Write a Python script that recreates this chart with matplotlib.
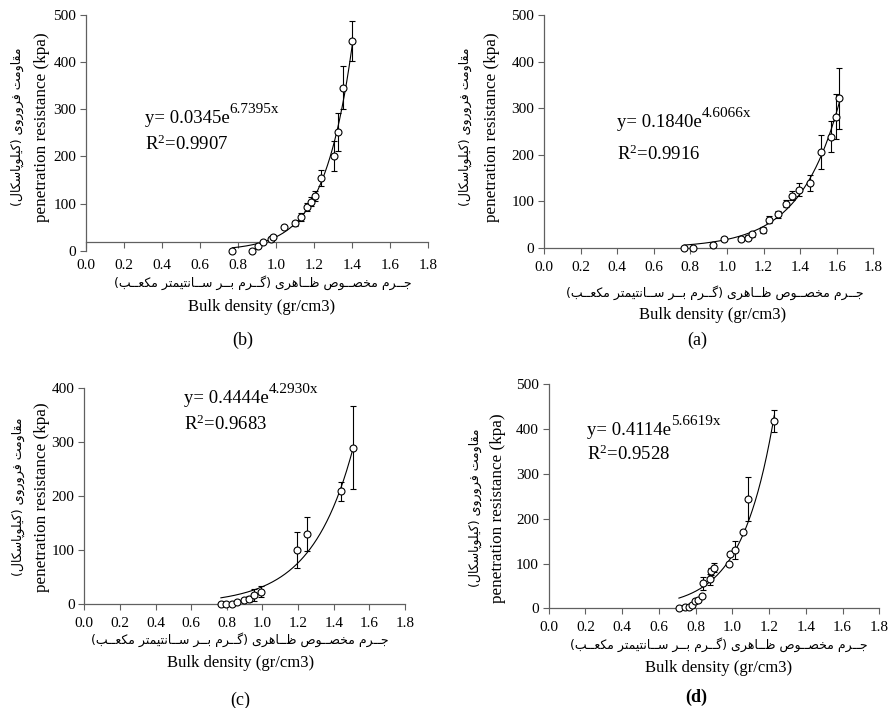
import numpy as np
import matplotlib
matplotlib.use("Agg")
import matplotlib.pyplot as plt
from matplotlib.ticker import MultipleLocator, FormatStrFormatter

plt.rcParams['font.family'] = ['Liberation Serif', 'DejaVu Sans']
plt.rcParams['mathtext.fontset'] = 'custom'
plt.rcParams['mathtext.rm'] = 'Liberation Serif'
plt.rcParams['mathtext.it'] = 'Liberation Serif'

# (a) bulk density (gr/cm3), penetration resistance (kPa), standard error
bd_a = [0.767, 0.816, 0.922, 0.986, 1.077, 1.113, 1.139, 1.195, 1.232, 1.281,
        1.321, 1.354, 1.396, 1.454, 1.514, 1.569, 1.594, 1.614]
pr_a = [0, 0, 6, 19, 19, 22, 29, 39, 61, 72, 95, 112, 125, 139, 206, 239, 282, 321]
err_a = [0, 0, 3, 4, 4, 5, 5, 6, 7, 8, 8, 10, 14, 17, 37, 33, 48, 65]
fit_a = (0.1840, 4.6066, "0.1840", "4.6066x", "0.9916")

# (b)
bd_b = [0.771, 0.873, 0.904, 0.934, 0.972, 0.985, 1.040, 1.098, 1.131, 1.161,
        1.185, 1.207, 1.235, 1.303, 1.329, 1.354, 1.401]
pr_b = [0, 0, 11, 18, 24, 30, 51, 58, 71, 93, 104, 116, 155, 201, 252, 346, 445]
err_b = [0, 0, 0, 0, 3, 4, 0, 5, 8, 8, 10, 10, 17, 31, 40, 46, 43]
fit_b = (0.0345, 6.7395, "0.0345", "6.7395x", "0.9907")

# (c)
bd_c = [0.767, 0.795, 0.831, 0.859, 0.898, 0.926, 0.954, 0.992, 1.192, 1.248,
        1.441, 1.506]
pr_c = [0, 0, 0, 4, 8, 10, 17, 23, 101, 130, 209, 290]
err_c = [0, 0, 0, 0, 0, 5, 11, 10, 33, 32, 18, 77]
fit_c = (0.4444, 4.2930, "0.4444", "4.2930x", "0.9683")

# (d)
bd_d = [0.709, 0.742, 0.766, 0.780, 0.797, 0.815, 0.833, 0.842, 0.878, 0.882,
        0.902, 0.983, 0.987, 1.014, 1.056, 1.083, 1.228]
pr_d = [1, 2, 2, 7, 17, 19, 28, 56, 65, 83, 91, 99, 121, 130, 171, 245, 418]
err_d = [0, 0, 0, 0, 0, 0, 0, 15, 12, 8, 10, 0, 0, 20, 0, 49, 25]
fit_d = (0.4114, 5.6619, "0.4114", "5.6619x", "0.9528")

x_label_fa = "جــرم مخصــوص ظــاهری (گــرم بــر ســانتیمتر مکعــب)"
y_label_fa = "مقاومت فروروی (کیلوپاسکال)"
x_label_en = "Bulk density (gr/cm3)"
y_label_en = "penetration resistance (kpa)"

# contextual glyphs: isolated, final, initial, medial
AR_FORMS = {
    'ا': (0xFE8D, 0xFE8E, None, None),
    'ب': (0xFE8F, 0xFE90, 0xFE91, 0xFE92),
    'پ': (0xFB56, 0xFB57, 0xFB58, 0xFB59),
    'ت': (0xFE95, 0xFE96, 0xFE97, 0xFE98),
    'ج': (0xFE9D, 0xFE9E, 0xFE9F, 0xFEA0),
    'خ': (0xFEA5, 0xFEA6, 0xFEA7, 0xFEA8),
    'ر': (0xFEAD, 0xFEAE, None, None),
    'س': (0xFEB1, 0xFEB2, 0xFEB3, 0xFEB4),
    'ص': (0xFEB9, 0xFEBA, 0xFEBB, 0xFEBC),
    'ظ': (0xFEC5, 0xFEC6, 0xFEC7, 0xFEC8),
    'ع': (0xFEC9, 0xFECA, 0xFECB, 0xFECC),
    'ف': (0xFED1, 0xFED2, 0xFED3, 0xFED4),
    'ق': (0xFED5, 0xFED6, 0xFED7, 0xFED8),
    'ک': (0xFB8E, 0xFB8F, 0xFB90, 0xFB91),
    'گ': (0xFB92, 0xFB93, 0xFB94, 0xFB95),
    'ل': (0xFEDD, 0xFEDE, 0xFEDF, 0xFEE0),
    'م': (0xFEE1, 0xFEE2, 0xFEE3, 0xFEE4),
    'ن': (0xFEE5, 0xFEE6, 0xFEE7, 0xFEE8),
    'ه': (0xFEE9, 0xFEEA, 0xFEEB, 0xFEEC),
    'و': (0xFEED, 0xFEEE, None, None),
    'ی': (0xFBFC, 0xFBFD, 0xFBFE, 0xFBFF),
}
TATWEEL = 'ـ'


def shape_fa(text):
    """Join Persian letters and put them in visual (left to right) order."""
    def links_forward(ch):
        return ch == TATWEEL or (ch in AR_FORMS and AR_FORMS[ch][2] is not None)

    def links_back(ch):
        return ch == TATWEEL or ch in AR_FORMS

    out = []
    for i, ch in enumerate(text):
        if ch not in AR_FORMS:
            out.append(ch)
            continue
        prev = text[i - 1] if i > 0 else ''
        nxt = text[i + 1] if i + 1 < len(text) else ''
        iso, fin, ini, med = AR_FORMS[ch]
        back = links_forward(prev)
        fwd = ini is not None and links_back(nxt)
        if back and fwd:
            code = med
        elif back:
            code = fin
        elif fwd:
            code = ini
        else:
            code = iso
        out.append(chr(code))
    mirror = {'(': ')', ')': '('}
    return ''.join(mirror.get(c, c) for c in reversed(out))


W, H = 889, 708


def px(x, y):
    return x / W, 1 - y / H


def draw_panel(ax, bd, pr, err, fit, ymax, eq_xy, r2_xy, xaxis_at=0):
    coef, expo, coef_s, expo_s, r2_s = fit
    ax.set_xlim(0, 1.8)
    ax.set_ylim(0, ymax)
    for s in ['top', 'right']:
        ax.spines[s].set_visible(False)
    for s in ['left', 'bottom']:
        ax.spines[s].set_color('#606060')
        ax.spines[s].set_linewidth(0.9)
    if xaxis_at:
        ax.spines['bottom'].set_position(('data', xaxis_at))
    ax.xaxis.set_major_locator(MultipleLocator(0.2))
    ax.xaxis.set_major_formatter(FormatStrFormatter('%.1f'))
    ax.yaxis.set_major_locator(MultipleLocator(100))
    ax.tick_params(axis='both', direction='out', length=4, width=0.8,
                   color='#606060', labelsize=11)
    ax.tick_params(axis='x', pad=5 if not xaxis_at else 8)
    ax.tick_params(axis='y', pad=3)

    # exponential trend line from the fitted equation
    xs = np.linspace(min(bd), max(bd), 200)
    ax.plot(xs, coef * np.exp(expo * xs), color='black', lw=0.8, zorder=2)

    bd = np.array(bd)
    pr = np.array(pr)
    err = np.array(err)
    m = err > 0
    eb = ax.errorbar(bd[m], pr[m], yerr=err[m], fmt='none', ecolor='black',
                     elinewidth=0.8, capsize=2.5, capthick=0.8, zorder=3)
    for art in eb.get_children():
        art.set_clip_on(False)
    ax.plot(bd, pr, 'o', ms=5, mfc='white', mec='black', mew=0.8,
            zorder=4, clip_on=False)

    t = ax.text(eq_xy[0], eq_xy[1], "y= " + coef_s + "e", fontsize=13.5,
                va='baseline')
    ax.annotate(expo_s, xy=(1, 0.8), xycoords=t, fontsize=11,
                va='baseline', ha='left')
    ax.text(r2_xy[0], r2_xy[1], "R$^{2}$=" + r2_s, fontsize=13.5,
            va='baseline')


fig = plt.figure(figsize=(W / 100, H / 100), dpi=100)

ax_b = fig.add_axes([0.0967, 0.6459, 0.3847, 0.3329])
ax_a = fig.add_axes([0.6119, 0.6497, 0.3704, 0.3291])
ax_c = fig.add_axes([0.0948, 0.1465, 0.3607, 0.3051])
ax_d = fig.add_axes([0.6172, 0.1408, 0.3719, 0.3164])

draw_panel(ax_b, bd_b, pr_b, err_b, fit_b, 500, (0.31, 271), (0.31, 213), xaxis_at=18)
draw_panel(ax_a, bd_a, pr_a, err_a, fit_a, 500, (0.40, 260), (0.40, 189))
draw_panel(ax_c, bd_c, pr_c, err_c, fit_c, 400, (0.56, 373), (0.56, 323))
draw_panel(ax_d, bd_d, pr_d, err_d, fit_d, 500, (0.21, 387), (0.21, 331))

fa_x = shape_fa(x_label_fa)
fa_y = shape_fa(y_label_fa)

# label positions per panel: persian x label, english x label, tag, english y label, persian y label
labels = [
    ((263, 283), (262, 307), (243, 340), "(b)", (42, 127), (17, 127), 'normal'),
    ((715, 293), (713, 315), (697, 340), "(a)", (492, 127), (465, 127), 'normal'),
    ((240, 640), (241, 663), (240, 700), "(c)", (42, 497), (18, 497), 'normal'),
    ((719, 645), (719, 668), (696, 697), "(d)", (498, 508), (475, 508), 'bold'),
]
for fa_pos, en_pos, tag_pos, tag, yen_pos, yfa_pos, weight in labels:
    fig.text(*px(*fa_pos), fa_x, family='DejaVu Sans', fontsize=9,
             ha='center', va='center')
    fig.text(*px(*en_pos), x_label_en, fontsize=12, ha='center', va='center')
    fig.text(*px(*tag_pos), tag, fontsize=13, ha='center', va='center',
             fontweight=weight)
    fig.text(*px(*yen_pos), y_label_en, fontsize=12.3, rotation=90,
             ha='center', va='center')
    fig.text(*px(*yfa_pos), fa_y, family='DejaVu Sans', fontsize=9,
             rotation=90, ha='center', va='center')

fig.savefig("out.png", dpi=100)
